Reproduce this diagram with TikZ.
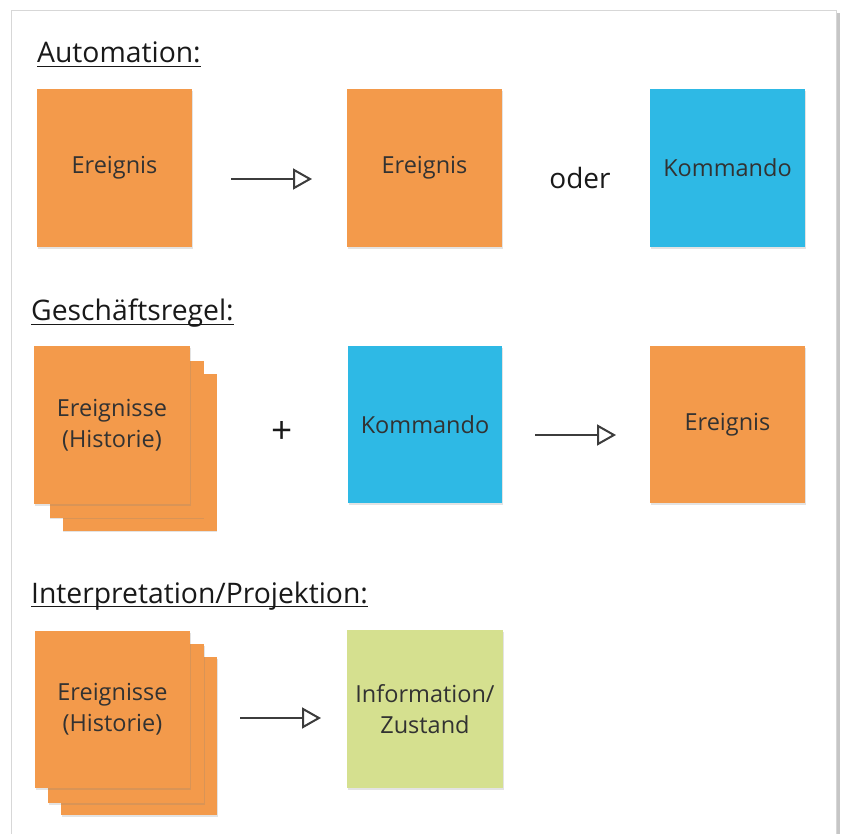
\documentclass[tikz,border=0pt]{standalone}
\usepackage{fontspec}
\setmainfont{Open Sans}
\usetikzlibrary{arrows.meta,shadows}
\definecolor{noteorange}{RGB}{243,154,75}
\definecolor{noteblue}{RGB}{46,185,229}
\definecolor{notegreen}{RGB}{213,224,143}
\definecolor{notetext}{RGB}{50,50,50}
\definecolor{headtext}{RGB}{25,25,25}
\definecolor{arrowgray}{RGB}{60,60,60}
\definecolor{framegray}{RGB}{215,215,215}
\tikzset{
  note/.style={rectangle, minimum width=155pt, minimum height=158pt, inner sep=0pt,
    text=notetext, font=\fontsize{23.5}{31}\selectfont, align=center,
    drop shadow={shadow xshift=0.6pt, shadow yshift=-1.6pt, opacity=0.22}},
  ev/.style={note, fill=noteorange},
  cmd/.style={note, fill=noteblue},
  info/.style={note, fill=notegreen},
  heading/.style={anchor=base west, inner sep=0pt, text=headtext, font=\fontsize{28.3}{32}\selectfont},
  uline/.style={line width=1.8pt, headtext},
  flow/.style={line width=2pt, arrowgray, -{Triangle[open, length=19pt, width=21pt, fill=white]}},
  bigsym/.style={inner sep=0pt, text=headtext, font=\fontsize{28}{32}\selectfont}
}
\begin{document}
\begin{tikzpicture}[x=1pt,y=-1pt]
\useasboundingbox (0,0) rectangle (841,834);
% frame
\fill[gray!45] (836.5,13) rectangle (839.5,834);
\draw[framegray, line width=1pt, fill=white] (11,11) rectangle (836.5,850);

% headings
\node[heading] (h1) at (37,63) {Automation:};
\draw[uline] ([yshift=-3.5pt]h1.base west) -- ([yshift=-3.5pt]h1.base east);
\node[heading] (h2) at (31,321) {Geschäftsregel:};
\draw[uline] ([yshift=-3.5pt]h2.base west) -- ([yshift=-3.5pt]h2.base east);
\node[heading] (h3) at (31,603) {Interpretation/Projektion:};
\draw[uline] ([yshift=-3.5pt]h3.base west) -- ([yshift=-3.5pt]h3.base east);

% row 1
\node[ev] (e1) at (114.5,168) {Ereignis};
\node[ev] (e2) at (424.5,168) {Ereignis};
\node[bigsym] (oder) at (580,178) {oder};
\node[cmd] (k1) at (727.5,168) {Kommando};
\coordinate (a1s) at (231,179);
\coordinate (a1e) at (312,179);
\draw[flow] (a1s) -- (a1e);

% row 2
\node[ev, minimum width=154pt, minimum height=156pt] (s2c) at (139.5,452.5) {};
\node[ev, minimum width=154pt, minimum height=156pt] (s2b) at (126.5,439.5) {};
\node[ev, minimum width=156pt, minimum height=158pt] (s2a) at (112,425) {Ereignisse\\(Historie)};
\node[bigsym, font=\fontsize{37}{40}\selectfont] (plus) at (282,432) {+};
\node[cmd, minimum width=154pt, minimum height=157pt] (k2) at (425,424.5) {Kommando};
\node[ev, minimum width=155pt, minimum height=157pt] (e3) at (727.5,424.5) {Ereignis};
\coordinate (a2s) at (535,435);
\coordinate (a2e) at (616,435);
\draw[flow] (a2s) -- (a2e);

% row 3
\node[ev, minimum width=156pt, minimum height=158pt] (s3c) at (139,736) {};
\node[ev, minimum width=156pt, minimum height=159pt] (s3b) at (126,723.5) {};
\node[ev, minimum width=155pt, minimum height=157pt] (s3a) at (112.5,709.5) {Ereignisse\\(Historie)};
\node[info, minimum width=156pt, minimum height=158pt] (z) at (425,709) {Information/\\Zustand};
\coordinate (a3s) at (240,718);
\coordinate (a3e) at (321,718);
\draw[flow] (a3s) -- (a3e);
\end{tikzpicture}
\end{document}
